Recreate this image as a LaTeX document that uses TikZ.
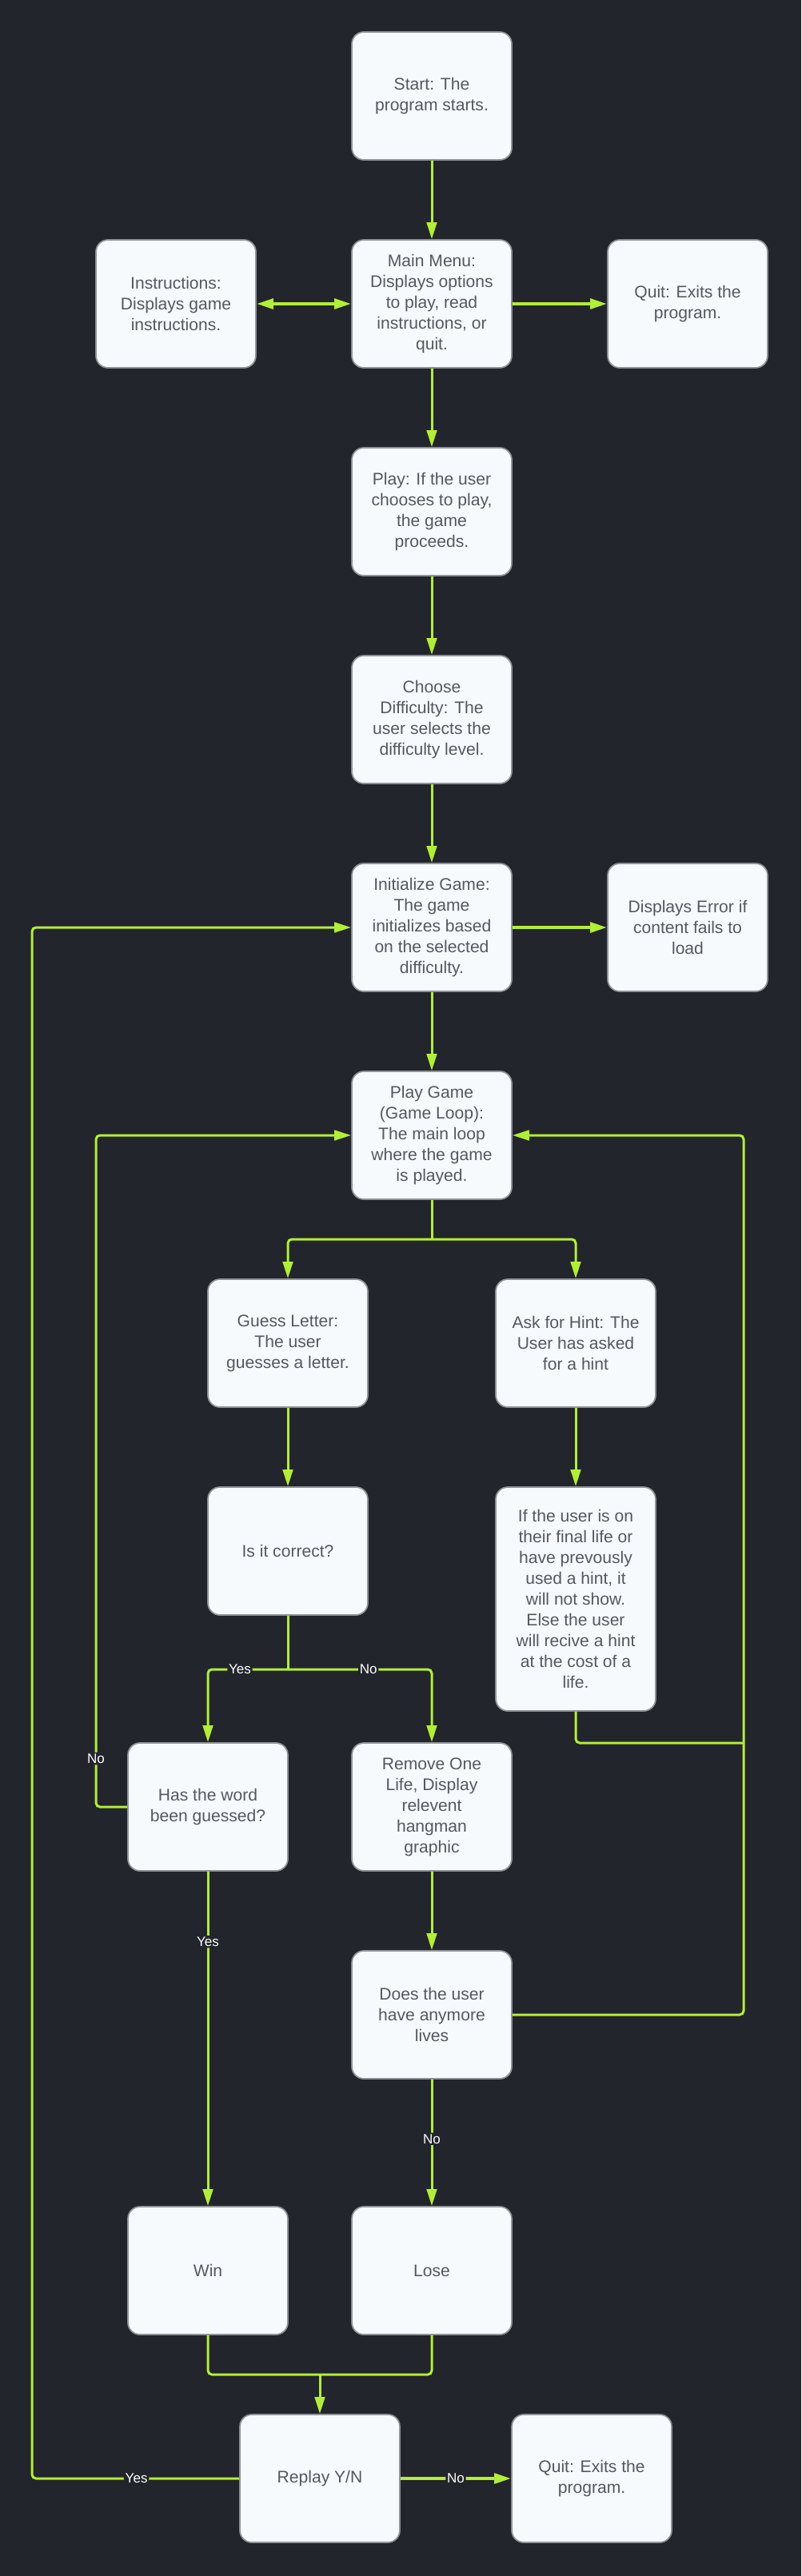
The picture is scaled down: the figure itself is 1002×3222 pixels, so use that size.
\documentclass[tikz,border=0pt]{standalone}
\usepackage{fontspec}
\setmainfont{Liberation Sans}
\usetikzlibrary{arrows.meta}
\definecolor{bgdark}{HTML}{22252B}
\definecolor{boxfill}{HTML}{F7FAFD}
\definecolor{boxedge}{HTML}{8F9399}
\definecolor{boxtext}{HTML}{54585F}
\definecolor{flowgreen}{HTML}{B3EE34}
\tikzset{
  greentip/.tip={Triangle[length=0.42cm,width=0.25cm]},
  stepbox/.style={draw=boxedge, line width=0.035cm, fill=boxfill, rounded corners=0.3cm,
    minimum width=4cm, minimum height=3.2cm, align=center, text=boxtext, inner sep=0pt,
    font=\fontsize{12}{14.8}\selectfont},
  link/.style={draw=flowgreen, line width=0.06cm, rounded corners=0.1cm},
  flow/.style={link, -greentip},
  boldflow/.style={flow, line width=0.08cm},
  flowlabel/.style={fill=bgdark, text=white, inner sep=1pt, font=\fontsize{9.7}{11}\selectfont},
}

\begin{document}
\begin{tikzpicture}[x=0.02cm,y=-0.02cm]
  \fill[bgdark] (0,0) rectangle (1002,3222);
  \useasboundingbox (0,0) rectangle (1002,3222);

  \node[stepbox] (start) at (540,120) {Start: The\\program starts.};
  \node[stepbox] (menu) at (540,380) {Main Menu:\\Displays options\\to play, read\\instructions, or\\quit.};
  \node[stepbox] (instr) at (220,380) {Instructions:\\Displays game\\instructions.};
  \node[stepbox] (quit) at (860,380) {Quit: Exits the\\program.};
  \node[stepbox] (play) at (540,640) {Play: If the user\\chooses to play,\\the game\\proceeds.};
  \node[stepbox] (difficulty) at (540,900) {Choose\\Difficulty: The\\user selects the\\difficulty level.};
  \node[stepbox] (init) at (540,1160) {Initialize Game:\\The game\\initializes based\\on the selected\\difficulty.};
  \node[stepbox] (error) at (860,1160) {Displays Error if\\content fails to\\load};
  \node[stepbox] (loop) at (540,1420) {Play Game\\(Game Loop):\\The main loop\\where the game\\is played.};
  \node[stepbox] (guess) at (360,1680) {Guess Letter:\\The user\\guesses a letter.};
  \node[stepbox] (hint) at (720,1680) {Ask for Hint: The\\User has asked\\for a hint};
  \node[stepbox] (correct) at (360,1940) {Is it correct?};
  \node[stepbox, minimum height=5.6cm] (hintrule) at (720,2000) {If the user is on\\their final life or\\have prevously\\used a hint, it\\will not show.\\Else the user\\will recive a hint\\at the cost of a\\life.};
  \node[stepbox] (guessed) at (260,2260) {Has the word\\been guessed?};
  \node[stepbox] (remove) at (540,2260) {Remove One\\Life, Display\\relevent\\hangman\\graphic};
  \node[stepbox] (lives) at (540,2520) {Does the user\\have anymore\\lives};
  \node[stepbox] (win) at (260,2840) {Win};
  \node[stepbox] (lose) at (540,2840) {Lose};
  \node[stepbox] (replay) at (400,3100) {Replay Y/N};
  \node[stepbox] (quitend) at (740,3100) {Quit: Exits the\\program.};

  \coordinate (loopsplit) at (540,1550);
  \coordinate (correctsplit) at (360,2088);
  \coordinate (leftrail) at (120,1420);
  \coordinate (rightrail) at (930,1420);
  \coordinate (hintjoin) at (930,2180);
  \coordinate (outerrail) at (40,1160);
  \coordinate (endmerge) at (400,2970);

  \draw[flow] (start) -- (menu);
  \draw[boldflow, greentip-greentip] (instr) -- (menu);
  \draw[boldflow] (menu) -- (quit);
  \draw[flow] (menu) -- (play);
  \draw[flow] (play) -- (difficulty);
  \draw[flow] (difficulty) -- (init);
  \draw[boldflow] (init) -- (error);
  \draw[flow] (init) -- (loop);
  \draw[link] (loop.south) -- (loopsplit);
  \draw[flow] (loopsplit) -| (guess.north);
  \draw[flow] (loopsplit) -| (hint.north);
  \draw[flow] (guess) -- (correct);
  \draw[flow] (hint) -- (hintrule);
  \draw[link] (correct.south) -- (correctsplit);
  \draw[flow] (correctsplit) -| node[flowlabel, pos=0.3] {Yes} (guessed.north);
  \draw[flow] (correctsplit) -| node[flowlabel, pos=0.28] {No} (remove.north);
  \draw[flow] (guessed.west) -| node[flowlabel, pos=0.536] {No} (leftrail) -- (loop.west);
  \draw[flow] (guessed) -- node[flowlabel, pos=0.21] {Yes} (win);
  \draw[flow] (remove) -- (lives);
  \draw[link] (hintrule.south) |- (hintjoin);
  \draw[flow] (lives.east) -| (rightrail) -- (loop.east);
  \draw[flow] (lives) -- node[flowlabel, pos=0.47] {No} (lose);
  \draw[link] (win.south) |- (endmerge);
  \draw[link] (lose.south) |- (endmerge);
  \draw[flow] (endmerge) -- (replay.north);
  \draw[flow] (replay.west) -| node[flowlabel, pos=0.248] {Yes} (outerrail) -- (init.west);
  \draw[boldflow] (replay) -- node[flowlabel, pos=0.5] {No} (quitend);
\end{tikzpicture}
\end{document}
